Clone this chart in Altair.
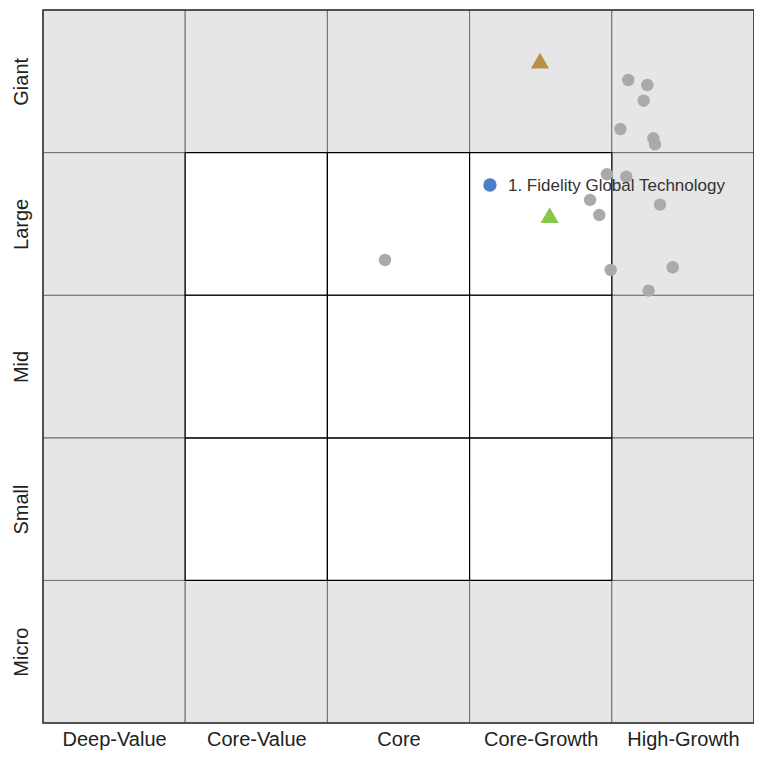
import altair as alt
import pandas as pd

# Category labels
styles = ["Deep-Value", "Core-Value", "Core", "Core-Growth", "High-Growth"]
sizes = ["Micro", "Small", "Mid", "Large", "Giant"]  # bottom to top

# Peer funds (gray), style score (0-5) and size score (0-5)
peer_x = [4.116, 4.250, 4.224, 4.060, 4.292, 4.304, 3.966, 4.102, 3.847,
          3.912, 4.339, 3.992, 4.428, 4.259, 2.405]
peer_y = [4.509, 4.474, 4.364, 4.165, 4.100, 4.058, 3.848, 3.831, 3.668,
          3.562, 3.635, 3.177, 3.196, 3.032, 3.247]

# Highlighted fund
fund_name = ["1. Fidelity Global Technology"]
fund_x = [3.143]
fund_y = [3.773]

# Benchmarks (triangles)
bench_x = [3.495, 3.563]
bench_y = [4.645, 3.562]
bench_color = ["#b98e47", "#86c94a"]

cells = pd.DataFrame(
    [
        {
            "x": i, "x2": i + 1, "y": j, "y2": j + 1,
            "fill": "#e6e6e6" if (i in (0, 4) or j in (0, 4)) else "#ffffff",
            "inner": not (i in (0, 4) or j in (0, 4)),
        }
        for i in range(5)
        for j in range(5)
    ]
)
peers = pd.DataFrame({"x": peer_x, "y": peer_y})
fund = pd.DataFrame({"x": fund_x, "y": fund_y, "name": fund_name})
bench = pd.DataFrame({"x": bench_x, "y": bench_y, "color": bench_color})
frame = pd.DataFrame({"x": [0], "x2": [5], "y": [0], "y2": [5]})

style_arr = "[" + ",".join("'%s'" % s for s in styles) + "]"
size_arr = "[" + ",".join("'%s'" % s for s in sizes) + "]"

xscale = alt.Scale(domain=[0, 5], nice=False, zero=False)
yscale = alt.Scale(domain=[0, 5], nice=False, zero=False)

font = "Liberation Sans"

xaxis = alt.Axis(
    values=[0.5, 1.5, 2.5, 3.5, 4.5],
    labelExpr=style_arr + "[floor(datum.value)]",
    title=None, ticks=False, domain=False, grid=False,
    labelFont=font, labelFontSize=20, labelColor="#222",
    labelPadding=6, labelBaseline="top",
)
yaxis = alt.Axis(
    values=[0.5, 1.5, 2.5, 3.5, 4.5],
    labelExpr=size_arr + "[floor(datum.value)]",
    title=None, ticks=False, domain=False, grid=False,
    labelFont=font, labelFontSize=20, labelColor="#222",
    labelAngle=270, labelAlign="center", labelBaseline="bottom",
    labelPadding=12,
)

base_cells = alt.Chart(cells).mark_rect(stroke="#6e6e6e", strokeWidth=1).encode(
    x=alt.X("x:Q", scale=xscale, axis=xaxis),
    x2="x2:Q",
    y=alt.Y("y:Q", scale=yscale, axis=yaxis),
    y2="y2:Q",
    fill=alt.Fill("fill:N", scale=None),
)

inner_cells = alt.Chart(cells).transform_filter("datum.inner").mark_rect(
    stroke="#000000", strokeWidth=1.2, fill="#ffffff"
).encode(x="x:Q", x2="x2:Q", y="y:Q", y2="y2:Q")

border = alt.Chart(frame).mark_rect(
    fillOpacity=0, stroke="#333333", strokeWidth=1.5
).encode(x="x:Q", x2="x2:Q", y="y:Q", y2="y2:Q")

peer_pts = alt.Chart(peers).mark_point(
    shape="circle", filled=True, size=155, color="#aaaaaa", opacity=1
).encode(x="x:Q", y="y:Q")

bench_pts = alt.Chart(bench).mark_point(
    shape="triangle-up", filled=True, size=330, opacity=1
).encode(x="x:Q", y="y:Q", color=alt.Color("color:N", scale=None))

fund_pt = alt.Chart(fund).mark_point(
    shape="circle", filled=True, size=180, color="#4a80c8", opacity=1
).encode(x="x:Q", y="y:Q")

fund_label = alt.Chart(fund).mark_text(
    align="left", baseline="middle", dx=18, dy=1,
    font=font, fontSize=17, color="#333333"
).encode(x="x:Q", y="y:Q", text="name:N")

chart = (
    alt.layer(base_cells, inner_cells, border, peer_pts, bench_pts, fund_pt, fund_label)
    .properties(
        width=711, height=713,
        autosize=alt.AutoSizeParams(type="none"),
        padding={"left": 35, "top": 2, "right": 0, "bottom": 30},
    )
    .configure_view(stroke=None)
)

chart.save("out.html", embed_options={"renderer": "svg", "actions": False})
